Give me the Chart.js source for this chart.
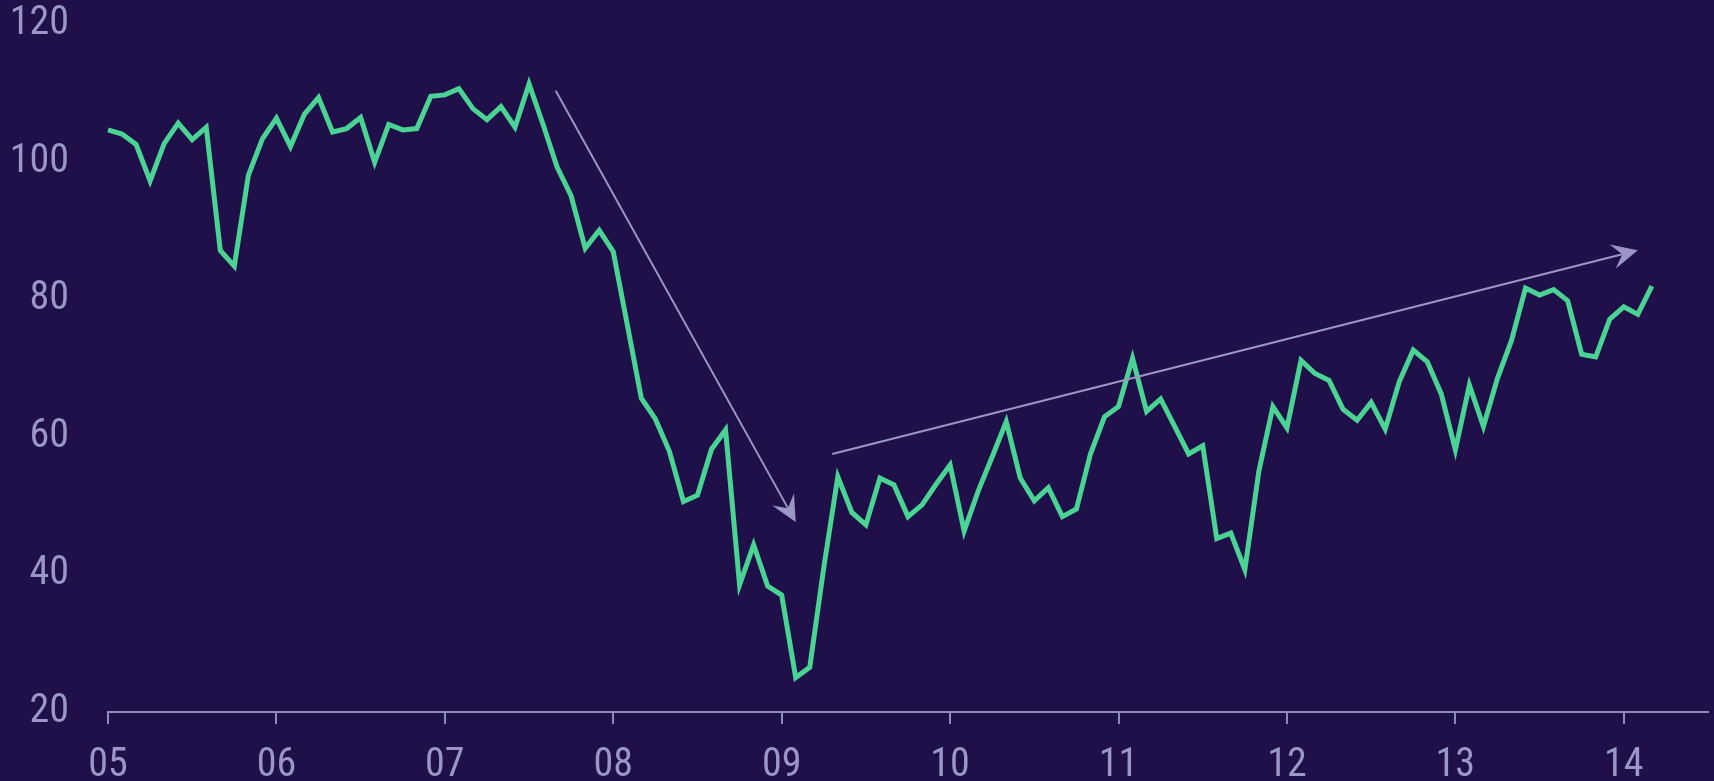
<!DOCTYPE html>
<html>
<head>
<meta charset="utf-8">
<script src="https://cdn.jsdelivr.net/npm/chart.js@4"></script>
<style>
  html, body { margin: 0; padding: 0; background: #1f104a; }
  #wrap { width: 1714px; height: 781px; }
</style>
</head>
<body>
<div id="wrap"><canvas id="indexChart"></canvas></div>
<script>
// monthly index, Jan 2005 .. Mar 2014
const values = [
  104.6, 104.0, 102.5, 97.2, 102.6, 105.6, 103.2, 105.0, 87.1, 84.8, 98.0, 103.3,
  106.3, 102.2, 106.9, 109.3, 104.3, 104.8, 106.4, 99.9, 105.4, 104.6, 104.8, 109.5,
  109.7, 110.6, 107.7, 106.1, 108.0, 105.0, 111.3, 105.4, 99.2, 95.0, 87.4, 90.0,
  86.9, 76.3, 65.6, 62.6, 57.9, 50.6, 51.5, 58.2, 61.0, 38.5, 44.3, 38.3,
  37.0, 25.0, 26.5, 41.0, 54.2, 49.0, 47.2, 54.0, 53.0, 48.4, 50.1, 53.1,
  55.9, 46.3, 52.1, 57.1, 62.2, 54.0, 50.7, 52.6, 48.4, 49.5, 57.5, 62.9,
  64.4, 71.4, 63.7, 65.5, 61.5, 57.5, 58.7, 45.2, 46.0, 40.7, 55.0, 64.4,
  61.3, 71.1, 69.2, 68.2, 64.0, 62.4, 65.0, 61.1, 68.0, 72.6, 70.9, 66.2,
  58.1, 67.5, 61.5, 68.5, 74.0, 81.6, 80.6, 81.4, 79.8, 72.0, 71.6, 77.1,
  78.9, 77.8, 81.9
];

const yearLabels = ["05", "06", "07", "08", "09", "10", "11", "12", "13", "14"];
const yearTicks = [0, 12, 24, 36, 48, 60, 72, 84, 96, 108]; // month index of each January
const yTicks = [20, 40, 60, 80, 100, 120];

// trend arrows, [monthIndex, value] from -> to
const fallArrow = [[31.9, 110.3], [49.0, 47.6]];
const riseArrow = [[51.6, 57.5], [109.0, 87.1]];

const green = "#4bd394";
const lavender = "#9b96c6";
const axisColor = "#8f8abb";
const tickFont = { family: "'Roboto Condensed', Roboto, sans-serif", size: 40, lineHeight: 1.2 };

const arrows = {
  id: "arrows",
  afterDatasetsDraw(chart) {
    const { ctx, scales } = chart;
    [fallArrow, riseArrow].forEach(a => {
      const x1 = scales.x.getPixelForValue(a[0][0]);
      const y1 = scales.y.getPixelForValue(a[0][1]);
      const x2 = scales.x.getPixelForValue(a[1][0]);
      const y2 = scales.y.getPixelForValue(a[1][1]);
      const ang = Math.atan2(y2 - y1, x2 - x1);
      const len = 26, half = 12.5, notch = 16;
      const ux = Math.cos(ang), uy = Math.sin(ang);
      const px = -uy, py = ux;

      ctx.save();
      ctx.strokeStyle = lavender;
      ctx.lineWidth = 2;
      ctx.beginPath();
      ctx.moveTo(x1, y1);
      ctx.lineTo(x2 - ux * notch, y2 - uy * notch);
      ctx.stroke();

      ctx.fillStyle = lavender;
      ctx.beginPath();
      ctx.moveTo(x2, y2);
      ctx.lineTo(x2 - ux * len + px * half, y2 - uy * len + py * half);
      ctx.lineTo(x2 - ux * notch, y2 - uy * notch);
      ctx.lineTo(x2 - ux * len - px * half, y2 - uy * len - py * half);
      ctx.closePath();
      ctx.fill();
      ctx.restore();
    });
  }
};

new Chart(document.getElementById("indexChart"), {
  type: "line",
  data: {
    datasets: [{
      data: values.map((v, i) => ({ x: i, y: v })),
      borderColor: green,
      borderWidth: 5,
      pointRadius: 0,
      tension: 0,
      fill: false,
      clip: false
    }]
  },
  options: {
    responsive: true,
    maintainAspectRatio: false,
    animation: false,
    layout: { padding: { top: 24, right: 6, left: 0, bottom: 0 } },
    plugins: {
      legend: { display: false },
      tooltip: { enabled: false }
    },
    scales: {
      x: {
        type: "linear",
        min: 0,
        max: 114,
        afterBuildTicks(scale) {
          scale.ticks = yearTicks.map(v => ({ value: v }));
        },
        afterFit(scale) {
          scale.height = 69;
          scale.paddingLeft = 0;
          scale.paddingRight = 0;
        },
        ticks: {
          color: lavender,
          font: tickFont,
          padding: 18,
          maxRotation: 0,
          autoSkip: false,
          callback: (v) => yearLabels[yearTicks.indexOf(v)]
        },
        grid: {
          drawOnChartArea: false,
          drawTicks: true,
          tickLength: 12,
          color: axisColor,
          lineWidth: 2
        },
        border: { display: true, color: axisColor, width: 2 }
      },
      y: {
        min: 20,
        max: 120,
        afterBuildTicks(scale) {
          scale.ticks = yTicks.map(v => ({ value: v }));
        },
        afterFit(scale) {
          scale.width = 108;
          scale.paddingTop = 0;
          scale.paddingBottom = 0;
        },
        ticks: {
          color: lavender,
          font: tickFont,
          padding: 39
        },
        grid: { display: false, drawTicks: false },
        border: { display: false }
      }
    }
  },
  plugins: [arrows]
});
</script>
</body>
</html>
